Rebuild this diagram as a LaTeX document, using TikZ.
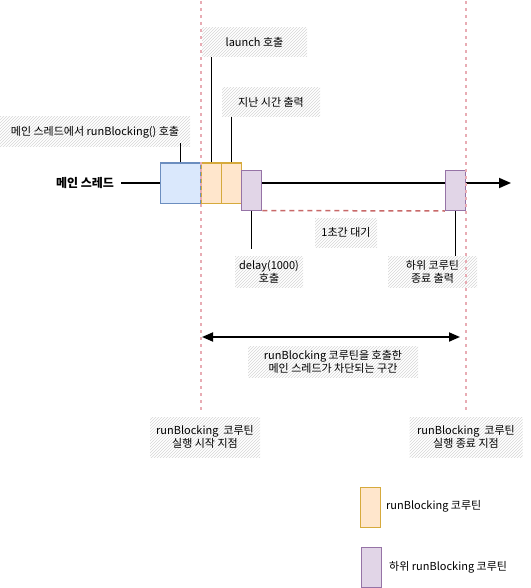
\documentclass[tikz,border=0pt]{standalone}
\usepackage{fontspec}
\setmainfont{Noto Sans CJK KR}
\usetikzlibrary{arrows.meta,patterns}
\definecolor{guidec}{RGB}{232,172,180}
\definecolor{waitc}{RGB}{200,105,105}
\definecolor{bluef}{HTML}{DAE8FC}
\definecolor{blued}{HTML}{6C8EBF}
\definecolor{orf}{HTML}{FFE6CC}
\definecolor{ord}{HTML}{D6AA3C}
\definecolor{puf}{HTML}{E1D5E7}
\definecolor{pud}{HTML}{9673A6}
\begin{document}
\begin{tikzpicture}[x=1pt,y=-1pt,
  every node/.style={font=\fontsize{11}{13}\selectfont},
  box/.style={draw, line width=1pt, minimum width=20pt, minimum height=40pt, inner sep=0pt},
  bluebox/.style={box, fill=bluef, draw=blued, minimum width=40pt},
  orbox/.style={box, fill=orf, draw=ord},
  pubox/.style={box, fill=puf, draw=pud},
  hlab/.style={pattern=north east lines, pattern color=black!16, inner sep=0pt, align=center},
  plain/.style={inner sep=0pt, align=center},
  guide/.style={draw=guidec, line width=1.5pt, dash pattern=on 3pt off 4pt},
  waitline/.style={draw=waitc, line width=1.5pt, dash pattern=on 5pt off 4pt},
  mainline/.style={draw=black, line width=1.8pt},
  callout/.style={draw=black, line width=0.8pt}
]
\useasboundingbox (0,0) rectangle (530,588);

% hatched label backgrounds / labels
\node[hlab, minimum width=190pt, minimum height=30pt] (l1) at (95,132) {메인 스레드에서 runBlocking() 호출};
\node[hlab, minimum width=105pt, minimum height=29pt] (l2) at (254.5,42.5) {launch 호출};
\node[hlab, minimum width=98pt, minimum height=29pt] (l3) at (271,102.5) {지난 시간 출력};
\node[hlab, minimum width=68pt, minimum height=31pt] (l4) at (269,272) {delay(1000)\\호출};
\node[hlab, minimum width=89pt, minimum height=31pt] (l5) at (432.5,272) {하위 코루틴\\종료 출력};
\node[hlab, minimum width=62pt, minimum height=29pt] (l6) at (346,232.5) {1초간 대기};
\node[hlab, minimum width=170pt, minimum height=31pt] (l7) at (333,362) {runBlocking 코루틴을 호출한\\메인 스레드가 차단되는 구간};
\node[hlab, minimum width=110pt, minimum height=40pt] (l8) at (205,437) {runBlocking~ 코루틴\\실행 시작 지점};
\node[hlab, minimum width=113pt, minimum height=40pt] (l9) at (466,437) {runBlocking~ 코루틴\\실행 종료 지점};

% main thread
\node[plain, font=\fontsize{12}{14}\selectfont\bfseries] (thr) at (85,183) {메인 스레드};
\coordinate (ms) at (121,183);
\coordinate (me) at (511,183);
\draw[mainline, -{Triangle[length=12pt,width=10pt]}] (ms) -- (me);

% boxes
\node[bluebox] (blue) at (180.5,183) {};
\node[orbox] (o1) at (211,183) {};
\node[orbox] (o2) at (231,183) {};
\node[pubox, minimum width=20.5pt] (p1) at (251.5,190) {};
\node[pubox, minimum width=20.5pt] (p2) at (455.5,190.5) {};

% waiting line
\draw[waitline] (p1.south east) -- (p2.south west);

% callouts
\draw[callout] (blue.north) -- (blue.north |- 0,143);
\draw[callout] (o1.north) -- (o1.north |- l2.south);
\draw[callout] (o2.north) -- (o2.north |- l3.south);
\draw[callout] (p1.south) -- (p1.south |- 0,249);
\draw[callout] (p2.south) -- (p2.south |- 0,256);

% blocking interval arrow
\coordinate (bs) at (202,337);
\coordinate (be) at (460,337);
\draw[mainline, {Triangle[length=11pt,width=9pt]}-{Triangle[length=11pt,width=9pt]}] (bs) -- (be);

% guides
\coordinate (g1t) at (201,1);
\coordinate (g1b) at (201,413);
\coordinate (g2t) at (466,1);
\coordinate (g2b) at (466,413);
\draw[guide] (g1t) -- (g1b);
\draw[guide] (g2t) -- (g2b);

% legend
\node[orbox] (lo) at (370.7,507) {};
\node[plain, anchor=west] (llo) at (386,506) {runBlocking 코루틴};
\node[pubox] (lp) at (371,567) {};
\node[plain, anchor=west] (llp) at (389,567) {하위 runBlocking 코루틴};
\end{tikzpicture}
\end{document}
